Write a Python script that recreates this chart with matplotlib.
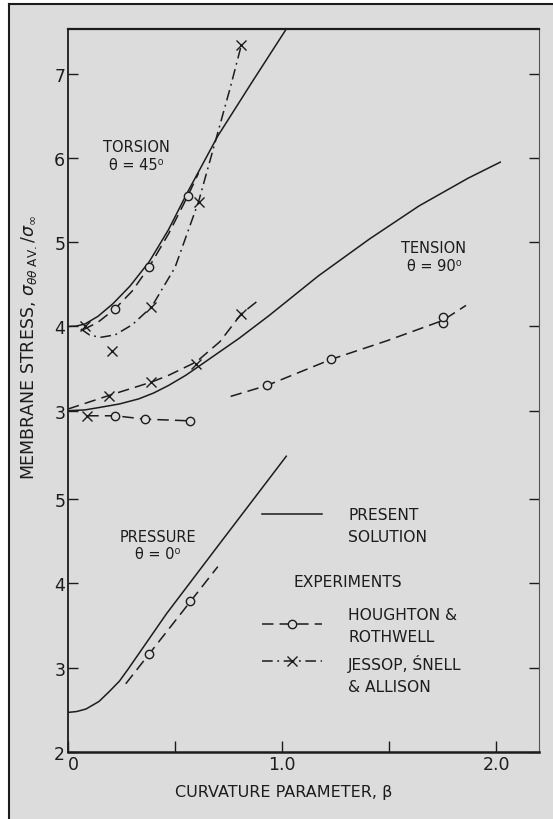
import numpy as np
import matplotlib
matplotlib.use("Agg")
import matplotlib.pyplot as plt
from matplotlib.lines import Line2D

# ---------------- data ----------------
# upper panel: torsion (theta = 45 deg) and tension (theta = 90 deg)
torsion_theory_beta = [0, 0.04, 0.08, 0.14, 0.21, 0.29, 0.38, 0.47, 0.56, 0.70, 0.86, 1.02]
torsion_theory = [4.0, 4.005, 4.03, 4.12, 4.27, 4.48, 4.77, 5.15, 5.60, 6.26, 6.90, 7.53]

torsion_hr_line_beta = [0.07, 0.14, 0.22, 0.30, 0.38, 0.47, 0.56, 0.61]
torsion_hr_line = [3.96, 4.05, 4.21, 4.42, 4.71, 5.10, 5.55, 5.82]
torsion_hr_pts_beta = [0.22, 0.38, 0.56]
torsion_hr_pts = [4.21, 4.71, 5.55]

torsion_jsa_line_beta = [0.06, 0.10, 0.15, 0.22, 0.30, 0.39, 0.50, 0.61, 0.70, 0.76, 0.81]
torsion_jsa_line = [3.97, 3.90, 3.87, 3.90, 4.02, 4.23, 4.70, 5.48, 6.30, 6.85, 7.34]
torsion_jsa_pts_beta = [0.08, 0.205, 0.39, 0.61, 0.81]
torsion_jsa_pts = [4.0, 3.71, 4.23, 5.48, 7.34]

tension_theory_beta = [0, 0.08, 0.15, 0.24, 0.33, 0.40, 0.47, 0.55, 0.63, 0.80, 0.94,
                       1.17, 1.41, 1.64, 1.87, 2.02]
tension_theory = [3.0, 3.01, 3.04, 3.08, 3.14, 3.21, 3.30, 3.42, 3.56, 3.86, 4.13,
                  4.60, 5.04, 5.43, 5.76, 5.95]

tension_jsa_line_beta = [0.0, 0.19, 0.39, 0.47, 0.60, 0.71, 0.81, 0.89]
tension_jsa_line = [3.02, 3.18, 3.34, 3.42, 3.58, 3.82, 4.15, 4.31]
tension_jsa_pts_beta = [0.19, 0.39, 0.60, 0.81]
tension_jsa_pts = [3.18, 3.34, 3.56, 4.15]

tension_hr_line_beta = [0.76, 0.93, 1.23, 1.49, 1.75, 1.86]
tension_hr_line = [3.17, 3.30, 3.61, 3.83, 4.07, 4.25]
tension_hr_pts_beta = [0.93, 1.23, 1.75, 1.75]
tension_hr_pts = [3.30, 3.61, 4.04, 4.11]

low_row_line_beta = [0.09, 0.22, 0.36, 0.57]
low_row_line = [2.94, 2.94, 2.90, 2.88]
low_row_jsa_beta = [0.09]
low_row_jsa = [2.94]
low_row_hr_beta = [0.22, 0.36, 0.57]
low_row_hr = [2.94, 2.90, 2.88]

# lower panel: pressure (theta = 0 deg), own scale 2..5
pressure_theory_beta = [0, 0.04, 0.084, 0.145, 0.19, 0.24, 0.28, 0.46, 0.69, 1.02]
pressure_theory = [2.47, 2.48, 2.51, 2.60, 2.71, 2.84, 2.98, 3.64, 4.41, 5.51]
pressure_hr_line_beta = [0.27, 0.70]
pressure_hr_line = [2.81, 4.20]
pressure_hr_pts_beta = [0.38, 0.57]
pressure_hr_pts = [3.16, 3.79]

upper_ticks = [3, 4, 5, 6, 7]
lower_ticks = [2, 3, 4, 5]
x_ticks = [0, 0.5, 1.0, 1.5, 2.0]
x_tick_labels = ["0", "", "1.0", "", "2.0"]
OFFSET = 3.05  # lower-panel value v is drawn at v - OFFSET on the shared axis

# ---------------- style ----------------
plt.rcParams["font.family"] = ["DejaVu Sans"]
plt.rcParams["mathtext.fontset"] = "dejavusans"

BG = "#dcdcdc"
INK = "#1c1c1c"
LW = 1.1
DASH = (0, (7.5, 4.0))
DASHDOT = (0, (7.0, 3.0, 1.2, 3.0))

fs_tick = 12.5
fs_lab = 11.5
fs_ylab = 12.5
fs_txt = 10.5
fs_leg = 11.2

fig = plt.figure(figsize=(5.53, 8.20), dpi=100)
fig.patch.set_facecolor(BG)
# white margin + frame only on left and top
fig.patches.append(plt.Rectangle((0, 0), 8.5 / 553, 1, transform=fig.transFigure,
                                 facecolor="white", edgecolor="none", zorder=-10))
fig.patches.append(plt.Rectangle((0, 1 - 4.5 / 820), 1, 4.5 / 820, transform=fig.transFigure,
                                 facecolor="white", edgecolor="none", zorder=-10))
fig.add_artist(Line2D([9 / 553, 9 / 553], [0, 1 - 5 / 820], transform=fig.transFigure,
                      color=INK, lw=1.5))
fig.add_artist(Line2D([9 / 553, 1], [1 - 5 / 820, 1 - 5 / 820], transform=fig.transFigure,
                      color=INK, lw=1.5))

ax = fig.add_axes([68 / 553, 1 - 753 / 820, 471 / 553, 723 / 820])
ax.set_zorder(5)
ax.set_facecolor("none")
ax.set_xlim(0, 471 / 214)
ax.set_ylim(-1.05, 7.53)

def low(v):
    return np.asarray(v) - OFFSET

# torsion
ax.plot(torsion_theory_beta, torsion_theory, color=INK, lw=LW)
ax.plot(torsion_hr_line_beta, torsion_hr_line, color=INK, lw=LW, ls=DASH)
ax.plot(torsion_hr_pts_beta, torsion_hr_pts, ls="none", marker="o", ms=6,
        mfc=BG, mec=INK, mew=1.0)
ax.plot(torsion_jsa_line_beta, torsion_jsa_line, color=INK, lw=LW, ls=DASHDOT)
ax.plot(torsion_jsa_pts_beta, torsion_jsa_pts, ls="none", marker="x", ms=6.5,
        mec=INK, mew=1.0)

# tension
ax.plot(tension_theory_beta, tension_theory, color=INK, lw=LW)
ax.plot(tension_jsa_line_beta, tension_jsa_line, color=INK, lw=LW, ls=DASH)
ax.plot(tension_jsa_pts_beta, tension_jsa_pts, ls="none", marker="x", ms=6.5,
        mec=INK, mew=1.0)
ax.plot(tension_hr_line_beta, tension_hr_line, color=INK, lw=LW, ls=DASH)
ax.plot(tension_hr_pts_beta, tension_hr_pts, ls="none", marker="o", ms=6,
        mfc=BG, mec=INK, mew=1.0)
ax.plot(low_row_line_beta, low_row_line, color=INK, lw=LW, ls=DASH)
ax.plot(low_row_jsa_beta, low_row_jsa, ls="none", marker="x", ms=6.5,
        mec=INK, mew=1.0)
ax.plot(low_row_hr_beta, low_row_hr, ls="none", marker="o", ms=6,
        mfc=BG, mec=INK, mew=1.0)

# pressure (lower panel)
ax.plot(pressure_theory_beta, low(pressure_theory), color=INK, lw=LW)
ax.plot(pressure_hr_line_beta, low(pressure_hr_line), color=INK, lw=LW, ls=DASH)
ax.plot(pressure_hr_pts_beta, low(pressure_hr_pts), ls="none", marker="o", ms=6,
        mfc=BG, mec=INK, mew=1.0)

# axes, ticks
yt = list(low(lower_ticks)) + upper_ticks
ylabels = [str(t) for t in lower_ticks] + [str(t) for t in upper_ticks]
ax.set_yticks(yt)
ax.set_yticklabels(ylabels)
ax.set_xticks(x_ticks)
ax.set_xticklabels(x_tick_labels)
ax.tick_params(axis="y", direction="in", length=7, width=1.0, pad=2,
               labelsize=fs_tick, colors=INK, right=True, labelright=False)
ax.tick_params(axis="x", direction="in", length=8, width=1.0, pad=2,
               labelsize=fs_tick, colors=INK)
ax.get_xticklabels()[0].set_ha("left")
for side, lw in (("left", 1.3), ("bottom", 1.8), ("top", 1.6), ("right", 0.8)):
    ax.spines[side].set_linewidth(lw)
    ax.spines[side].set_color(INK if side != "right" else "#555555")

ax.set_xlabel("CURVATURE PARAMETER, β", fontsize=fs_lab, color=INK)
ax.xaxis.set_label_coords((284 - 68) / 471, -(793 - 753) / 723)
ax.xaxis.label.set_va("center")
ax.set_ylabel(r"MEMBRANE STRESS, $\sigma_{\theta\theta\ \mathrm{AV.}}/\sigma_{\infty}$",
              fontsize=fs_ylab, color=INK)
ax.yaxis.set_label_coords(-(68 - 29) / 471, (753 - 348) / 723)
ax.yaxis.label.set_va("center")

# annotations
ax.text(0.32, 6.03, "TORSION\nθ = 45⁰", ha="center", va="center",
        fontsize=fs_txt, color=INK, linespacing=1.2)
ax.text(1.71, 4.83, "TENSION\nθ = 90⁰", ha="center", va="center",
        fontsize=fs_txt, color=INK, linespacing=1.2)
ax.text(0.42, 1.41, "PRESSURE\nθ = 0⁰", ha="center", va="center",
        fontsize=fs_txt, color=INK, linespacing=1.2)
ax.text(1.308, 0.97, "EXPERIMENTS", ha="center", va="center",
        fontsize=fs_leg, color=INK)

# legends
h_theory = Line2D([], [], color=INK, lw=LW)
h_hr = Line2D([], [], color=INK, lw=LW, ls=DASH, marker="o", ms=6, mfc=BG, mec=INK)
h_jsa = Line2D([], [], color=INK, lw=LW, ls=DASHDOT, marker="x", ms=6.5, mec=INK)

hl = 43.0 / fs_leg
htp = 19.0 / fs_leg
leg1 = ax.legend([h_theory], ["PRESENT\nSOLUTION"], loc="upper left",
                 bbox_to_anchor=((262 - 68) / 471, (753 - 508) / 723),
                 frameon=False, fontsize=fs_leg, handlelength=hl, handleheight=1.2,
                 handletextpad=htp, borderpad=0, borderaxespad=0)
for t in leg1.get_texts():
    t.set_color(INK)
    t.set_linespacing(1.55)
ax.add_artist(leg1)
leg2 = ax.legend([h_hr, h_jsa], ["HOUGHTON &\nROTHWELL", "JESSOP, ŚNELL\n& ALLISON"],
                 loc="upper left",
                 bbox_to_anchor=((262 - 68) / 471, (753 - 608) / 723),
                 frameon=False, fontsize=fs_leg, handlelength=hl, numpoints=1,
                 handleheight=1.2, handletextpad=htp, borderpad=0, borderaxespad=0,
                 labelspacing=0.7)
for t in leg2.get_texts():
    t.set_color(INK)
    t.set_linespacing(1.55)

# handle drawn level with the first text line where the reference does so
try:
    for hp in leg1._legend_handle_box.get_children()[0].get_children():
        hp.align = "top"
    entries = leg2._legend_handle_box.get_children()[0].get_children()
    entries[0].align = "center"
    entries[1].align = "top"
except Exception:
    pass

fig.savefig("out.png", dpi=100, facecolor=fig.get_facecolor())
